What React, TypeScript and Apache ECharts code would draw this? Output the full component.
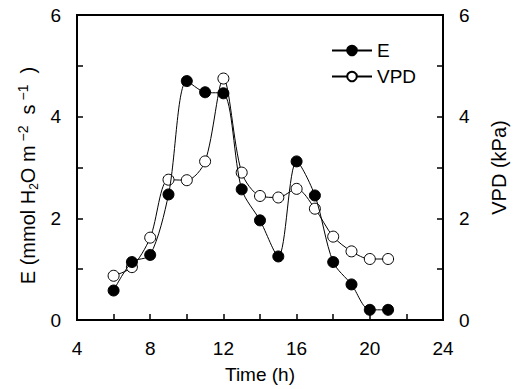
import React, { useEffect, useRef } from "react";
import * as echarts from "echarts";

const hours = [6, 7, 8, 9, 10, 11, 12, 13, 14, 15, 16, 17, 18, 19, 20, 21];
const eValues = [0.58, 1.14, 1.28, 2.47, 4.70, 4.48, 4.46, 2.57, 1.96, 1.25, 3.12, 2.45, 1.14, 0.70, 0.20, 0.20];
const vpdValues = [0.87, 1.04, 1.62, 2.76, 2.75, 3.12, 4.75, 2.90, 2.44, 2.41, 2.58, 2.19, 1.64, 1.35, 1.20, 1.20];

const FONT = "Liberation Sans, Arial, Helvetica, sans-serif";

export default function App() {
  const ref = useRef<HTMLDivElement>(null);
  useEffect(() => {
    if (!ref.current) return;
    const chart = echarts.init(ref.current, undefined, { renderer: "svg" });
    const tickStyle = { show: true, inside: true, length: 6, lineStyle: { color: "#000", width: 1.5 } };
    const minorStyle = { show: true, splitNumber: 2, length: 6, lineStyle: { color: "#000", width: 1.5 } };
    const labelStyle = { color: "#000", fontSize: 19, fontFamily: FONT };
    chart.setOption({
      animation: false,
      backgroundColor: "#fff",
      grid: {
        left: 77,
        right: 71,
        top: 15,
        bottom: 67,
        show: true,
        borderColor: "#000",
        borderWidth: 2,
      },
      legend: {
        orient: "vertical",
        left: 326,
        top: 36,
        itemWidth: 40,
        itemHeight: 12,
        itemGap: 7,
        textStyle: { color: "#000", fontSize: 19, fontFamily: FONT },
        data: ["E", "VPD"],
      },
      xAxis: {
        type: "value",
        min: 4,
        max: 24,
        interval: 4,
        name: "Time (h)",
        nameLocation: "middle",
        nameGap: 45,
        nameTextStyle: { color: "#000", fontSize: 19, fontFamily: FONT },
        axisLine: { lineStyle: { color: "#000", width: 2 } },
        axisTick: tickStyle,
        minorTick: minorStyle,
        axisLabel: { ...labelStyle, margin: 19 },
        splitLine: { show: false },
      },
      yAxis: [
        {
          type: "value",
          min: 0,
          max: 6,
          interval: 2,
          name:
            "{n|E (mmol H}{sub|2}{n|O m}{sup| −2}{n|  s}{sup| −1}{n|  )}",
          nameLocation: "middle",
          nameGap: 36,
          nameRotate: 90,
          nameTextStyle: {
            color: "#000",
            fontSize: 20,
            fontFamily: FONT,
            padding: [0, 16, 0, 0],
            rich: {
              n: { fontSize: 20, fontFamily: FONT, color: "#000", lineHeight: 24, verticalAlign: "middle" },
              sub: { fontSize: 12, fontFamily: FONT, color: "#000", verticalAlign: "bottom", lineHeight: 22 },
              sup: { fontSize: 14, fontFamily: FONT, color: "#000", verticalAlign: "top", lineHeight: 22 },
            },
          },
          axisLine: { show: true, lineStyle: { color: "#000", width: 2 } },
          axisTick: tickStyle,
          minorTick: minorStyle,
          axisLabel: { ...labelStyle, margin: 16 },
          splitLine: { show: false },
        },
        {
          type: "value",
          position: "right",
          min: 0,
          max: 6,
          interval: 2,
          name: "VPD (kPa)",
          nameLocation: "middle",
          nameGap: 46,
          nameRotate: 90,
          nameTextStyle: { color: "#000", fontSize: 20, fontFamily: FONT },
          axisLine: { show: true, lineStyle: { color: "#000", width: 2 } },
          axisTick: tickStyle,
          minorTick: minorStyle,
          axisLabel: { ...labelStyle, margin: 16 },
          splitLine: { show: false },
        },
      ],
      series: [
        {
          name: "E",
          type: "line",
          yAxisIndex: 0,
          data: hours.map((h, i) => [h, eValues[i]]),
          smooth: 0.3,
          symbol: "circle",
          symbolSize: 11,
          lineStyle: { color: "#000", width: 1 },
          itemStyle: { color: "#000", borderColor: "#000", borderWidth: 1 },
          z: 3,
        },
        {
          name: "VPD",
          type: "line",
          yAxisIndex: 1,
          data: hours.map((h, i) => [h, vpdValues[i]]),
          smooth: 0.3,
          symbol: "circle",
          symbolSize: 11,
          lineStyle: { color: "#000", width: 1 },
          itemStyle: { color: "#fff", borderColor: "#000", borderWidth: 1 },
          z: 2,
        },
      ],
    });
    return () => chart.dispose();
  }, []);
  return <div ref={ref} style={{ width: 517, height: 389, position: "absolute", left: 0, top: 0 }} />;
}
